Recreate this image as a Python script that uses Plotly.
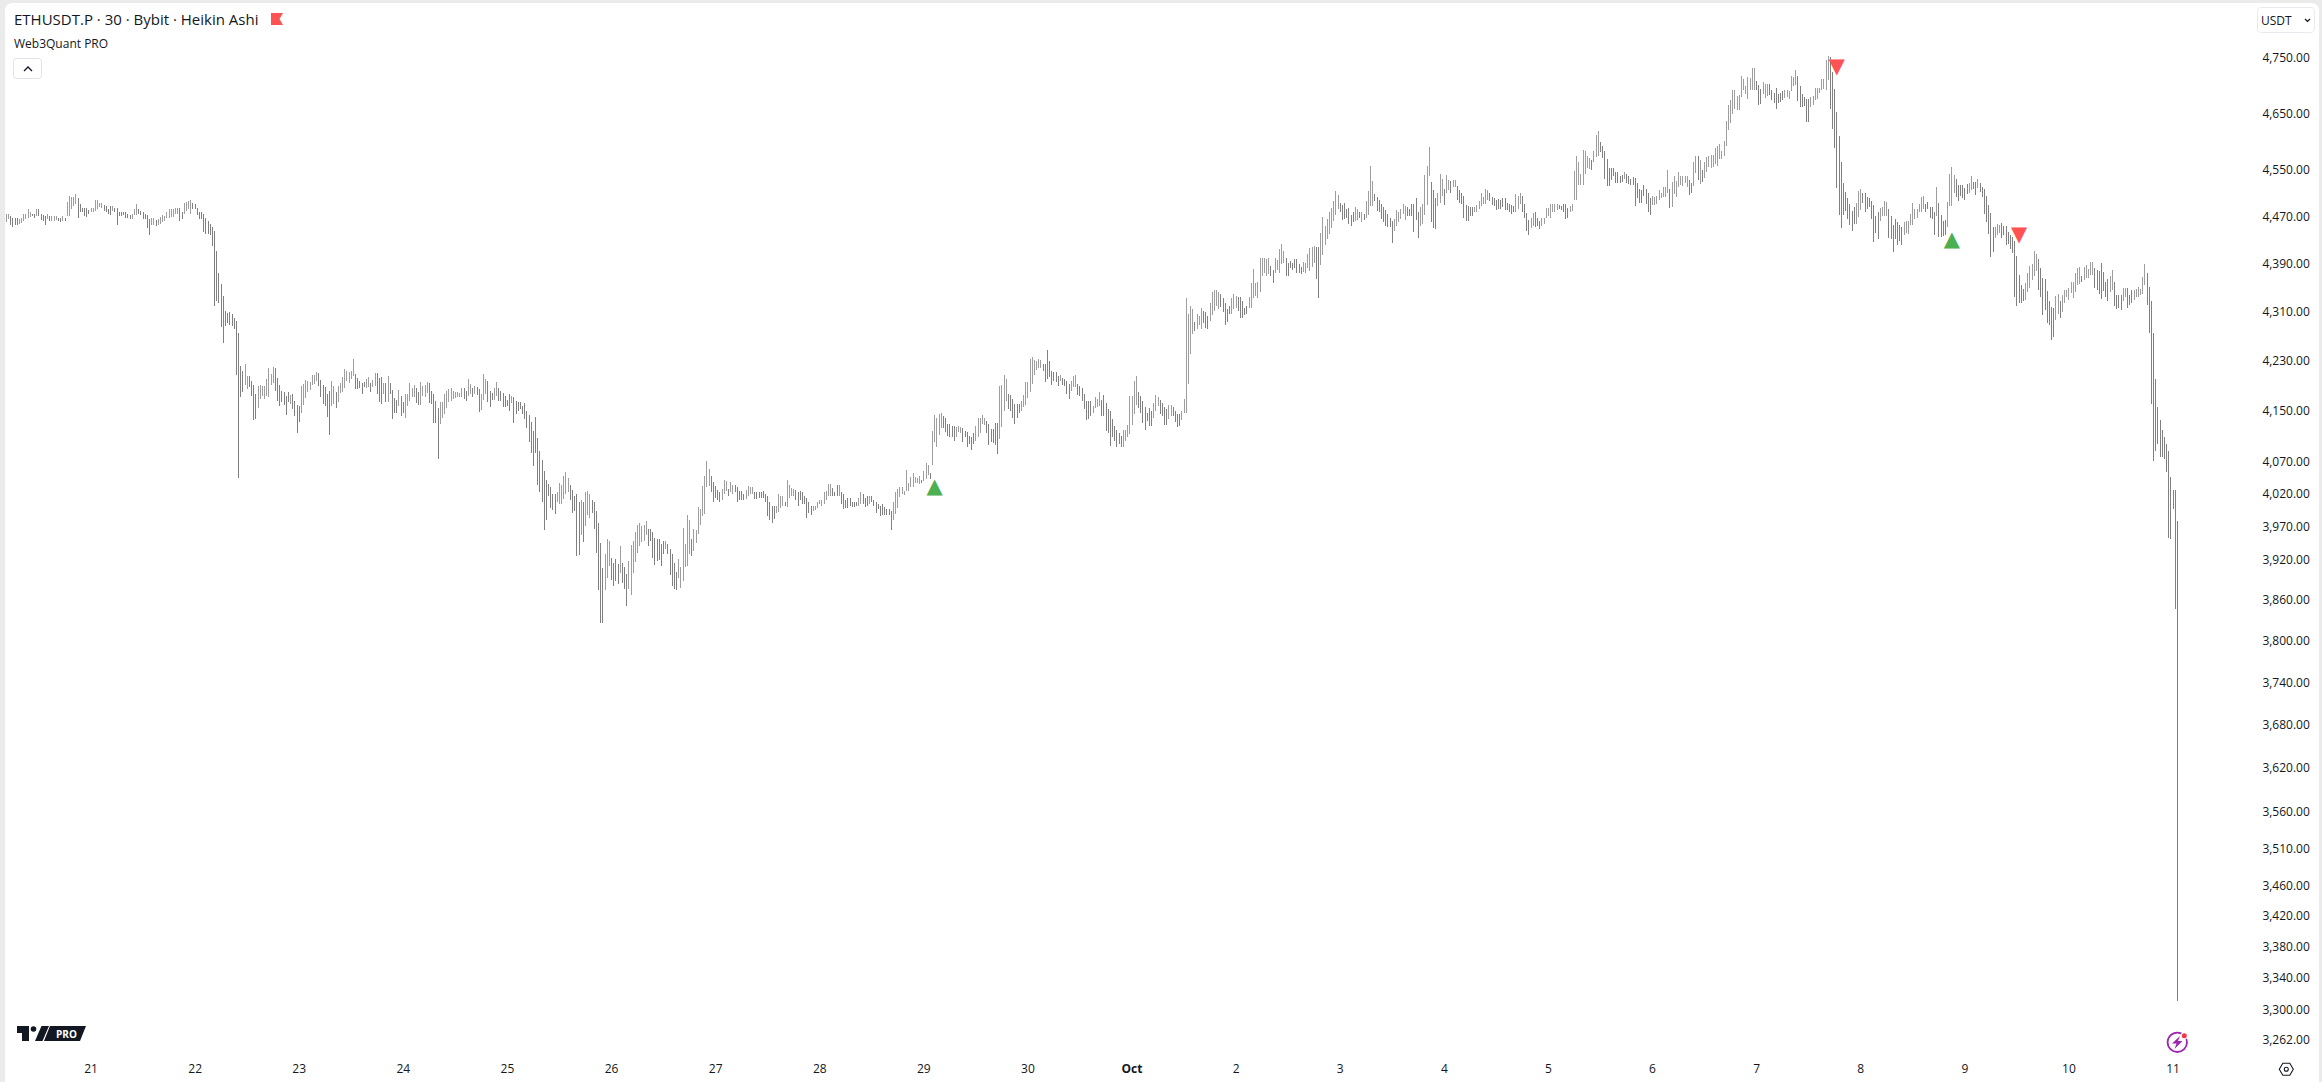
'''
    ETHUSDT.P 30m Heikin Ashi chart, drawn as thin high/low bars on a log price axis.
    The values were read off the picture, one list per day.
'''
import math

import pandas as pd
import plotly.graph_objects as go

W, H = 2322, 1082
INK = '#131722'
UP_COLOR = '#9e9e9e'
DOWN_COLOR = '#808080'
GREEN = '#4caf50'
RED = '#ff5252'
FONT = 'Open Sans'

sep20_high = [4475, 4475, 4470, 4467, 4467, 4467, 4465, 4467, 4475, 4475, 4482, 4478,
              4475, 4475, 4482, 4482, 4474, 4472, 4471, 4475, 4470, 4470, 4470, 4470,
              4467, 4468, 4470, 4468, 4495, 4506, 4503, 4503, 4508, 4501, 4491, 4485,
              4484, 4484, 4481]
sep20_low = [4460, 4465, 4456, 4452, 4455, 4456, 4458, 4459, 4462, 4466, 4468, 4469,
             4470, 4468, 4471, 4471, 4464, 4462, 4455, 4465, 4462, 4462, 4462, 4464,
             4462, 4460, 4462, 4462, 4471, 4471, 4482, 4488, 4491, 4467, 4477, 4477,
             4470, 4469, 4474]
sep20_dir = 'UUDDDDUUUUUU' 'DDUDDDDUDUUU' 'DDUDUUUUUDDD' 'DDD'

sep21_high = [4484, 4485, 4498, 4499, 4493, 4493, 4490, 4488, 4483, 4488, 4488, 4484,
              4485, 4478, 4477, 4478, 4478, 4475, 4473, 4474, 4482, 4491, 4482, 4479,
              4478, 4475, 4472, 4465, 4467, 4467, 4464, 4465, 4469, 4472, 4470, 4478,
              4482, 4482, 4482, 4485, 4485, 4484, 4478, 4493, 4495, 4497, 4498, 4494]
sep21_low = [4477, 4478, 4479, 4483, 4487, 4485, 4479, 4477, 4474, 4472, 4479, 4477,
             4455, 4471, 4471, 4472, 4467, 4467, 4465, 4466, 4472, 4472, 4474, 4473,
             4465, 4465, 4450, 4439, 4456, 4456, 4453, 4456, 4458, 4461, 4462, 4467,
             4468, 4469, 4469, 4474, 4475, 4462, 4465, 4474, 4479, 4482, 4474, 4483]
sep21_dir = 'UUUUUUDDDDUD' 'DDDDDDDUUUDD' 'DDDDUUDUUUUU' 'UUUUUDDUUUUD'

sep22_high = [4492, 4484, 4478, 4477, 4475, 4468, 4462, 4458, 4452, 4445, 4411, 4375,
              4356, 4336, 4312, 4308, 4310, 4307, 4299, 4294, 4275, 4221, 4214, 4224,
              4206, 4205, 4197, 4191, 4176, 4190, 4191, 4189, 4189, 4201, 4218, 4209,
              4220, 4218, 4202, 4191, 4182, 4179, 4174, 4179, 4175, 4177, 4166, 4159]
sep22_low = [4482, 4472, 4465, 4465, 4443, 4441, 4441, 4439, 4420, 4320, 4328, 4324,
             4285, 4259, 4286, 4291, 4288, 4287, 4281, 4207, 4044, 4171, 4179, 4191,
             4185, 4188, 4174, 4135, 4137, 4154, 4169, 4174, 4169, 4173, 4171, 4191,
             4194, 4182, 4165, 4157, 4163, 4159, 4143, 4164, 4160, 4153, 4142, 4115]
sep22_dir = 'DDDDDDDDDDDD' 'DDDDDDDDDDDU' 'UDDDDUUUUUUU' 'UDDDDDDDUDDD'

sep23_high = [4158, 4189, 4192, 4199, 4197, 4196, 4207, 4207, 4212, 4210, 4199, 4191,
              4188, 4176, 4181, 4197, 4190, 4179, 4190, 4194, 4203, 4216, 4213, 4212,
              4213, 4232, 4209, 4202, 4197, 4194, 4196, 4200, 4203, 4194, 4199, 4210,
              4210, 4202, 4203, 4194, 4194, 4206, 4194, 4183, 4170, 4167, 4183, 4173]
sep23_low = [4132, 4146, 4159, 4170, 4180, 4183, 4191, 4192, 4197, 4190, 4172, 4161,
             4158, 4140, 4112, 4158, 4161, 4154, 4164, 4178, 4179, 4186, 4197, 4194,
             4200, 4205, 4184, 4185, 4186, 4177, 4187, 4186, 4187, 4179, 4187, 4189,
             4177, 4163, 4161, 4177, 4163, 4164, 4176, 4136, 4146, 4146, 4158, 4141]
sep23_dir = 'DUUUUUUUUDDD' 'DDDUUDUUUUUU' 'UUDDDDDUUDUU' 'DDDUDUDDDDUD'

sep24_high = [4164, 4177, 4177, 4194, 4186, 4191, 4186, 4179, 4195, 4189, 4191, 4195,
              4194, 4182, 4176, 4165, 4154, 4164, 4164, 4176, 4182, 4184, 4186, 4181,
              4179, 4179, 4178, 4186, 4186, 4181, 4200, 4192, 4186, 4189, 4187, 4184,
              4176, 4208, 4200, 4197, 4182, 4178, 4186, 4195, 4186, 4181, 4178, 4173]
sep24_low = [4147, 4138, 4158, 4165, 4171, 4171, 4162, 4159, 4159, 4173, 4171, 4178,
             4162, 4161, 4131, 4130, 4074, 4129, 4139, 4145, 4154, 4164, 4165, 4168,
             4170, 4171, 4171, 4171, 4168, 4165, 4173, 4176, 4171, 4176, 4175, 4148,
             4151, 4167, 4176, 4164, 4156, 4167, 4167, 4173, 4165, 4165, 4156, 4156]
sep24_dir = 'DUUUUUDDUUUU' 'DDDDDUUUUUUU' 'UUUUDDUUDUDD' 'UUUDDDUUDDDD'

sep25_high = [4167, 4176, 4173, 4172, 4165, 4164, 4164, 4157, 4162, 4149, 4143, 4132,
              4118, 4140, 4106, 4087, 4073, 4055, 4041, 4035, 4031, 4020, 4020, 4023,
              4037, 4034, 4047, 4053, 4044, 4034, 4026, 4017, 4019, 4007, 4010, 4008,
              4023, 4025, 4019, 4010, 4008, 3993, 3975, 3945, 3907, 3928, 3951, 3948]
sep25_low = [4157, 4149, 4162, 4130, 4145, 4149, 4153, 4145, 4137, 4123, 4100, 4083,
             4063, 4083, 4034, 4022, 4007, 3965, 3980, 4017, 3998, 3995, 3989, 4008,
             4005, 4005, 4012, 4020, 4022, 4011, 3990, 3993, 3925, 3927, 3957, 3946,
             3970, 3987, 3983, 3990, 3966, 3930, 3875, 3826, 3826, 3874, 3892, 3910]
sep25_dir = 'DDUDDDDDDDDD' 'DDDDDDDDDDDU' 'UUUUUDDDDDUD' 'UUUDDDDDDUUU'

sep26_high = [3922, 3915, 3921, 3913, 3940, 3915, 3909, 3898, 3918, 3942, 3948, 3961,
              3972, 3975, 3970, 3973, 3979, 3966, 3966, 3961, 3952, 3951, 3951, 3943,
              3948, 3948, 3943, 3936, 3928, 3915, 3901, 3921, 3909, 3967, 3943, 3988,
              3980, 3951, 3966, 3965, 3999, 3996, 4032, 4047, 4070, 4059, 4047, 4038]
sep26_low = [3889, 3880, 3888, 3884, 3900, 3885, 3876, 3851, 3876, 3868, 3900, 3916,
             3930, 3940, 3946, 3948, 3957, 3940, 3948, 3922, 3912, 3918, 3919, 3910,
             3928, 3936, 3928, 3897, 3880, 3876, 3875, 3893, 3877, 3888, 3909, 3910,
             3928, 3925, 3933, 3945, 3958, 3972, 3986, 3989, 4031, 4032, 4023, 4008]
sep26_dir = 'DDDDUDDDUUUU' 'UUUUUDDDDDDD' 'DUDDDDDUUUUU' 'UDUUUUUUUUDD'

sep27_high = [4032, 4026, 4022, 4028, 4041, 4040, 4028, 4038, 4034, 4034, 4031, 4025,
              4025, 4020, 4026, 4032, 4031, 4031, 4023, 4023, 4022, 4022, 4025, 4019,
              4016, 4008, 4001, 4001, 4001, 4020, 4016, 4016, 4007, 4041, 4034, 4029,
              4028, 4026, 4023, 4025, 4022, 4017, 4014, 4007, 4001, 4001, 4002, 4008]
sep27_low = [4013, 4011, 4007, 4011, 4019, 4025, 4016, 4023, 4019, 4022, 4007, 4011,
             4011, 4011, 4012, 4017, 4019, 4020, 4012, 4012, 4014, 4014, 4014, 4008,
             3986, 3980, 3975, 3981, 3990, 3992, 3998, 4001, 4001, 3999, 4014, 4017,
             4017, 4011, 4001, 4010, 4005, 4005, 3983, 3990, 3987, 3993, 3995, 3998]
sep27_dir = 'DDDUUUDUUDDD' 'DDUUUUDDDDDD' 'DDDDUUUUDUUU' 'UDDDDDDDDUUU'

sep28_high = [4010, 4011, 4023, 4025, 4035, 4035, 4029, 4023, 4034, 4034, 4023, 4019,
              4011, 4013, 4013, 4007, 4008, 4008, 4014, 4022, 4019, 4014, 4016, 4017,
              4017, 4011, 4008, 4005, 4002, 4004, 3999, 3996, 3996, 3993, 4007, 4023,
              4028, 4030, 4030, 4024, 4057, 4036, 4046, 4052, 4046, 4044, 4047, 4042]
sep28_low = [4004, 4002, 4005, 4010, 4016, 4017, 4017, 4016, 4017, 4016, 4005, 3996,
             3998, 3998, 4001, 3999, 3999, 4001, 4002, 4005, 4004, 3999, 4002, 4005,
             4007, 4002, 3990, 3996, 3986, 3987, 3987, 3987, 3987, 3965, 3980, 3989,
             3998, 4015, 4020, 4018, 4025, 4025, 4031, 4030, 4036, 4036, 4035, 4037]
sep28_dir = 'UUUUUUDDDUDD' 'DDDDDDUUDDDU' 'DDDDDDDDDDUU' 'UUUUUUUUUUUD'

sep29_high = [4055, 4067, 4065, 4052, 4117, 4143, 4139, 4145, 4147, 4141, 4138, 4129,
              4129, 4125, 4125, 4124, 4125, 4124, 4122, 4117, 4116, 4110, 4108, 4114,
              4125, 4138, 4138, 4143, 4138, 4134, 4129, 4121, 4121, 4130, 4130, 4190,
              4191, 4207, 4201, 4177, 4175, 4168, 4160, 4160, 4160, 4165, 4175, 4195]
sep29_low = [4039, 4043, 4049, 4043, 4065, 4100, 4092, 4112, 4122, 4122, 4116, 4110,
             4108, 4108, 4102, 4108, 4116, 4115, 4101, 4108, 4093, 4097, 4088, 4097,
             4102, 4108, 4115, 4129, 4128, 4114, 4095, 4100, 4099, 4095, 4081, 4105,
             4124, 4150, 4166, 4153, 4150, 4139, 4129, 4139, 4147, 4149, 4155, 4159]
sep29_dir = 'UUUDUUUUUDDD' 'DDDUUUDDDDDD' 'UUUUUDDDDDDU' 'UUUDDDDDDUUU'

sep30_high = [4195, 4233, 4236, 4231, 4230, 4232, 4231, 4224, 4224, 4247, 4229, 4213,
              4211, 4211, 4206, 4207, 4202, 4200, 4197, 4192, 4198, 4205, 4207, 4193,
              4190, 4186, 4177, 4165, 4165, 4166, 4158, 4171, 4169, 4179, 4167, 4175,
              4162, 4152, 4150, 4137, 4126, 4120, 4114, 4110, 4119, 4120, 4128, 4173]
sep30_low = [4170, 4179, 4193, 4207, 4215, 4218, 4219, 4213, 4195, 4200, 4203, 4191,
             4198, 4195, 4189, 4198, 4191, 4190, 4177, 4169, 4181, 4187, 4188, 4175,
             4174, 4166, 4152, 4135, 4136, 4141, 4147, 4154, 4155, 4158, 4141, 4141,
             4117, 4115, 4094, 4108, 4102, 4092, 4097, 4093, 4093, 4102, 4108, 4113]
sep30_dir = 'UUUUUUUDDDDD' 'DDDUDDDDUUUD' 'DDDDDDUUUUDD' 'DDDDDDDDUUUU'

oct01_high = [4173, 4198, 4205, 4179, 4173, 4165, 4155, 4147, 4154, 4149, 4162, 4175,
              4172, 4167, 4162, 4155, 4153, 4159, 4159, 4155, 4149, 4145, 4145, 4150,
              4169, 4332, 4306, 4320, 4315, 4293, 4307, 4303, 4317, 4311, 4310, 4303,
              4325, 4342, 4346, 4346, 4342, 4340, 4333, 4325, 4314, 4320, 4333, 4340]
oct01_low = [4128, 4144, 4159, 4154, 4147, 4130, 4119, 4133, 4126, 4126, 4139, 4150,
             4158, 4144, 4141, 4128, 4127, 4137, 4142, 4142, 4132, 4124, 4125, 4135,
             4147, 4147, 4193, 4241, 4273, 4278, 4282, 4288, 4282, 4291, 4283, 4281,
             4294, 4305, 4311, 4320, 4314, 4318, 4310, 4289, 4293, 4307, 4306, 4314]
oct01_dir = 'UUUDDDDDDDUU' 'UDDDDUUDDDDU' 'UUUUUDUUUDDD' 'UUUUUDDDDDUU'

oct02_high = [4336, 4335, 4335, 4327, 4317, 4319, 4335, 4357, 4381, 4358, 4360, 4399,
              4399, 4399, 4398, 4399, 4386, 4380, 4399, 4397, 4414, 4424, 4411, 4399,
              4391, 4395, 4391, 4398, 4398, 4390, 4385, 4393, 4392, 4407, 4417, 4418,
              4419, 4418, 4418, 4442, 4469, 4454, 4465, 4477, 4484, 4496, 4514, 4507]
oct02_low = [4317, 4311, 4300, 4300, 4305, 4307, 4317, 4317, 4333, 4336, 4332, 4343,
             4369, 4375, 4369, 4372, 4369, 4358, 4375, 4380, 4375, 4390, 4391, 4369,
             4369, 4382, 4380, 4383, 4375, 4375, 4372, 4376, 4375, 4382, 4378, 4385,
             4392, 4364, 4332, 4388, 4404, 4422, 4432, 4440, 4450, 4463, 4472, 4482]
oct02_dir = 'UDDDDDUUUUUU' 'UUUUDDUUUUUD' 'DDDDDDDUUUUU' 'UDDUUUUUUUUU'

oct03_high = [4493, 4489, 4493, 4483, 4484, 4472, 4477, 4487, 4482, 4477, 4477, 4475,
              4496, 4513, 4557, 4531, 4508, 4503, 4499, 4492, 4487, 4481, 4475, 4468,
              4463, 4465, 4481, 4478, 4483, 4492, 4488, 4486, 4483, 4491, 4492, 4502,
              4478, 4487, 4492, 4541, 4558, 4591, 4529, 4515, 4502, 4510, 4543, 4534]
oct03_low = [4477, 4464, 4465, 4468, 4457, 4454, 4460, 4463, 4464, 4468, 4460, 4464,
             4468, 4473, 4488, 4488, 4496, 4479, 4477, 4465, 4461, 4454, 4452, 4452,
             4425, 4446, 4454, 4460, 4465, 4474, 4464, 4470, 4471, 4471, 4444, 4464,
             4433, 4454, 4457, 4473, 4489, 4540, 4461, 4450, 4449, 4488, 4494, 4506]
oct03_dir = 'DDDDDDDUUDUD' 'UUUUDDDDDDDD' 'DUUUUUUDDDDD' 'DUUUUUDDDUUU'

oct04_high = [4517, 4541, 4533, 4531, 4532, 4532, 4522, 4516, 4510, 4505, 4489, 4488,
              4487, 4486, 4487, 4489, 4496, 4510, 4504, 4517, 4516, 4511, 4503, 4501,
              4498, 4500, 4499, 4502, 4502, 4493, 4492, 4489, 4488, 4508, 4505, 4510,
              4505, 4491, 4476, 4464, 4468, 4476, 4477, 4468, 4463, 4467, 4468, 4484]
oct04_low = [4489, 4510, 4516, 4510, 4521, 4521, 4499, 4493, 4492, 4468, 4463, 4463,
             4471, 4470, 4477, 4477, 4482, 4488, 4492, 4492, 4499, 4496, 4490, 4488,
             4481, 4483, 4482, 4487, 4481, 4481, 4477, 4474, 4478, 4477, 4483, 4492,
             4478, 4467, 4446, 4438, 4450, 4453, 4452, 4454, 4449, 4453, 4457, 4468]
oct04_dir = 'DUUDUUDDDDDD' 'DDUUUUUUUDDD' 'DDDDDDDDDUUU' 'DDDDUUDDDUUU'

oct05_high = [4484, 4492, 4492, 4491, 4492, 4489, 4488, 4492, 4491, 4484, 4488, 4491,
              4548, 4574, 4564, 4544, 4586, 4583, 4574, 4571, 4567, 4583, 4612, 4618,
              4599, 4592, 4584, 4570, 4554, 4553, 4553, 4547, 4546, 4540, 4541, 4546,
              4543, 4540, 4535, 4538, 4537, 4527, 4518, 4515, 4524, 4517, 4510, 4501]
oct05_low = [4471, 4468, 4477, 4478, 4481, 4482, 4481, 4477, 4466, 4468, 4477, 4479,
             4499, 4499, 4525, 4524, 4525, 4543, 4554, 4552, 4551, 4564, 4573, 4574,
             4581, 4572, 4534, 4523, 4522, 4533, 4540, 4528, 4527, 4528, 4529, 4534,
             4527, 4526, 4524, 4525, 4488, 4501, 4493, 4494, 4506, 4491, 4478, 4473]
oct05_dir = 'UUUUUDDDDDUU' 'UUUUUUUUDUUU' 'DDDDDDDDDDDU' 'DDDDDDDDDDDD'

oct06_high = [4505, 4504, 4506, 4516, 4511, 4521, 4520, 4550, 4518, 4530, 4539, 4531,
              4546, 4540, 4539, 4540, 4539, 4533, 4527, 4564, 4575, 4575, 4567, 4550,
              4565, 4573, 4575, 4577, 4577, 4588, 4592, 4595, 4584, 4601, 4637, 4665,
              4674, 4692, 4692, 4681, 4683, 4717, 4711, 4699, 4715, 4713, 4732, 4732]
oct06_low = [4490, 4489, 4492, 4499, 4501, 4504, 4504, 4510, 4484, 4487, 4508, 4503,
             4520, 4525, 4523, 4527, 4520, 4507, 4510, 4522, 4545, 4532, 4526, 4530,
             4537, 4546, 4556, 4554, 4556, 4561, 4557, 4569, 4569, 4574, 4593, 4620,
             4633, 4649, 4657, 4656, 4656, 4680, 4692, 4685, 4675, 4691, 4691, 4692]
oct06_dir = 'UUUUUUUUDUUU' 'UUUUUDDUUDUD' 'UUUUUUUUUUUU' 'UUUUUUUUUUUU'

oct07_high = [4708, 4701, 4693, 4706, 4703, 4703, 4703, 4691, 4686, 4696, 4685, 4686,
              4689, 4692, 4691, 4689, 4717, 4715, 4728, 4717, 4699, 4685, 4679, 4676,
              4676, 4680, 4681, 4696, 4695, 4696, 4711, 4711, 4746, 4753, 4752, 4725,
              4694, 4653, 4609, 4565, 4528, 4512, 4502, 4492, 4480, 4486, 4493, 4513]
oct07_low = [4692, 4665, 4667, 4685, 4678, 4681, 4683, 4673, 4668, 4658, 4668, 4671,
             4674, 4677, 4679, 4675, 4689, 4698, 4701, 4672, 4662, 4662, 4663, 4635,
             4635, 4661, 4665, 4674, 4675, 4687, 4692, 4693, 4692, 4709, 4658, 4623,
             4588, 4519, 4473, 4450, 4473, 4479, 4465, 4455, 4446, 4457, 4457, 4469]
oct07_dir = 'DDDUUUDDDDDD' 'DUUUUUUDDDDD' 'DUUUUUUUUUDD' 'DDDDDDDDDDUU'

oct08_high = [4517, 4510, 4510, 4503, 4501, 4497, 4489, 4471, 4478, 4485, 4487, 4496,
              4495, 4482, 4470, 4455, 4465, 4460, 4455, 4452, 4460, 4462, 4462, 4474,
              4493, 4482, 4482, 4492, 4503, 4505, 4491, 4495, 4487, 4487, 4478, 4521,
              4493, 4472, 4463, 4464, 4495, 4543, 4556, 4542, 4534, 4525, 4525, 4525]
oct08_low = [4481, 4493, 4478, 4482, 4487, 4465, 4426, 4442, 4432, 4463, 4471, 4471,
             4471, 4434, 4432, 4410, 4432, 4422, 4429, 4422, 4438, 4442, 4440, 4455,
             4455, 4465, 4468, 4477, 4478, 4483, 4477, 4482, 4468, 4466, 4438, 4471,
             4435, 4435, 4436, 4438, 4452, 4488, 4488, 4510, 4503, 4496, 4506, 4501]
oct08_dir = 'UDDDDDDDDUUU' 'UDDDDDDDUUUU' 'UUUUUUDDDDDU' 'DDDDUUUUDDDD'

oct09_high = [4519, 4526, 4528, 4539, 4529, 4530, 4535, 4528, 4521, 4517, 4506, 4489,
              4476, 4452, 4452, 4457, 4456, 4459, 4454, 4454, 4443, 4438, 4435, 4428,
              4403, 4371, 4355, 4347, 4357, 4375, 4386, 4390, 4412, 4406, 4398, 4382,
              4366, 4364, 4344, 4328, 4318, 4317, 4336, 4340, 4328, 4338, 4346, 4346]
oct09_low = [4498, 4508, 4510, 4515, 4518, 4507, 4519, 4512, 4504, 4474, 4461, 4440,
             4402, 4409, 4434, 4438, 4442, 4433, 4439, 4421, 4424, 4415, 4408, 4334,
             4319, 4324, 4324, 4327, 4329, 4343, 4350, 4363, 4369, 4378, 4346, 4334,
             4305, 4313, 4291, 4289, 4264, 4269, 4297, 4306, 4300, 4309, 4324, 4334]
oct09_dir = 'DDUUDDUDDDDD' 'DDUUUDDDDDDD' 'DDDDUUUUUUDD' 'DDDDDDUUDUUU'

oct10_high = [4349, 4359, 4359, 4374, 4382, 4385, 4369, 4385, 4387, 4381, 4393, 4393,
              4382, 4379, 4377, 4391, 4376, 4360, 4364, 4370, 4379, 4359, 4338, 4338,
              4337, 4349, 4350, 4350, 4337, 4346, 4346, 4347, 4351, 4347, 4368, 4390,
              4375, 4351, 4327, 4275, 4200, 4155, 4135, 4119, 4108, 4098, 4086, 4046]
oct10_low = [4329, 4341, 4332, 4342, 4355, 4356, 4360, 4363, 4366, 4366, 4371, 4371,
             4350, 4346, 4340, 4331, 4344, 4335, 4328, 4342, 4346, 4320, 4315, 4317,
             4313, 4327, 4335, 4317, 4321, 4324, 4329, 4334, 4335, 4337, 4340, 4355,
             4321, 4275, 4161, 4071, 4086, 4097, 4077, 4077, 4074, 4054, 3952, 3951]
oct10_dir = 'UUUUUUDUUUUU' 'DDDDDDDUUDDD' 'DUUDDDUUUUUU' 'DDDDDDDDDDDD'

oct11_high = [4026, 4026, 3978]
oct11_low = [3997, 3846, 3311]
oct11_dir = 'DDD'

days = [
    ('2025-09-20 04:30', sep20_high, sep20_low, sep20_dir),
    ('2025-09-21 00:00', sep21_high, sep21_low, sep21_dir),
    ('2025-09-22 00:00', sep22_high, sep22_low, sep22_dir),
    ('2025-09-23 00:00', sep23_high, sep23_low, sep23_dir),
    ('2025-09-24 00:00', sep24_high, sep24_low, sep24_dir),
    ('2025-09-25 00:00', sep25_high, sep25_low, sep25_dir),
    ('2025-09-26 00:00', sep26_high, sep26_low, sep26_dir),
    ('2025-09-27 00:00', sep27_high, sep27_low, sep27_dir),
    ('2025-09-28 00:00', sep28_high, sep28_low, sep28_dir),
    ('2025-09-29 00:00', sep29_high, sep29_low, sep29_dir),
    ('2025-09-30 00:00', sep30_high, sep30_low, sep30_dir),
    ('2025-10-01 00:00', oct01_high, oct01_low, oct01_dir),
    ('2025-10-02 00:00', oct02_high, oct02_low, oct02_dir),
    ('2025-10-03 00:00', oct03_high, oct03_low, oct03_dir),
    ('2025-10-04 00:00', oct04_high, oct04_low, oct04_dir),
    ('2025-10-05 00:00', oct05_high, oct05_low, oct05_dir),
    ('2025-10-06 00:00', oct06_high, oct06_low, oct06_dir),
    ('2025-10-07 00:00', oct07_high, oct07_low, oct07_dir),
    ('2025-10-08 00:00', oct08_high, oct08_low, oct08_dir),
    ('2025-10-09 00:00', oct09_high, oct09_low, oct09_dir),
    ('2025-10-10 00:00', oct10_high, oct10_low, oct10_dir),
    ('2025-10-11 00:00', oct11_high, oct11_low, oct11_dir),
]

buy_times = ['2025-09-29 02:30', '2025-10-08 21:00']
buy_prices = [4030, 4428]
sell_times = ['2025-10-07 18:30', '2025-10-09 12:30']
sell_prices = [4731, 4437]

price_ticks = [4750, 4650, 4550, 4470, 4390, 4310, 4230, 4150, 4070, 4020, 3970, 3920, 3860,
               3800, 3740, 3680, 3620, 3560, 3510, 3460, 3420, 3380, 3340, 3300, 3262]
date_ticks = ['2025-09-21', '2025-09-22', '2025-09-23', '2025-09-24', '2025-09-25',
              '2025-09-26', '2025-09-27', '2025-09-28', '2025-09-29', '2025-09-30',
              '2025-10-01', '2025-10-02', '2025-10-03', '2025-10-04', '2025-10-05',
              '2025-10-06', '2025-10-07', '2025-10-08', '2025-10-09', '2025-10-10',
              '2025-10-11']
date_labels = ['21', '22', '23', '24', '25', '26', '27', '28', '29', '30', '<b>Oct</b>',
               '2', '3', '4', '5', '6', '7', '8', '9', '10', '11']


def px(x, y):
    '''
        Screen pixel to paper coordinates, for the interface bits around the chart.
    '''
    return x / W, 1 - y / H


def path(*items):
    '''
        Builds an SVG path in paper units from letters and (x, y) pixel pairs.
    '''
    parts = []
    for item in items:
        if isinstance(item, str):
            parts.append(item)
        else:
            x, y = px(*item)
            parts.append(f'{x:.5f},{y:.5f}')
    return ' '.join(parts)


def circle(cx, cy, r):
    x0, y0 = px(cx - r, cy - r)
    x1, y1 = px(cx + r, cy + r)
    return dict(x0=x0, x1=x1, y0=y0, y1=y1)


def rounded(x0, y0, x1, y1, r):
    return path('M', (x0 + r, y0), 'L', (x1 - r, y0), 'Q', (x1, y0), (x1, y0 + r),
                'L', (x1, y1 - r), 'Q', (x1, y1), (x1 - r, y1),
                'L', (x0 + r, y1), 'Q', (x0, y1), (x0, y1 - r),
                'L', (x0, y0 + r), 'Q', (x0, y0), (x0 + r, y0), 'Z')


def label(text, x, y, size, anchor='left', color=INK, bold=False):
    return dict(text=f'<b>{text}</b>' if bold else text, x=px(x, y)[0], y=px(x, y)[1],
                xref='paper', yref='paper', xanchor=anchor, yanchor='middle',
                showarrow=False, font=dict(family=FONT, size=size, color=color))


up_x, up_y, down_x, down_y = [], [], [], []
for start, highs, lows, dirs in days:
    times = pd.date_range(start, periods=len(highs), freq='30min')
    for t, high, low, d in zip(times, highs, lows, dirs):
        xs, ys = (up_x, up_y) if d == 'U' else (down_x, down_y)
        xs += [t, t, None]
        ys += [high, low, None]

fig = go.Figure()
fig.add_trace(go.Scatter(x=up_x, y=up_y, mode='lines', hoverinfo='skip',
                         line=dict(color=UP_COLOR, width=1)))
fig.add_trace(go.Scatter(x=down_x, y=down_y, mode='lines', hoverinfo='skip',
                         line=dict(color=DOWN_COLOR, width=1)))
fig.add_trace(go.Scatter(x=buy_times, y=buy_prices, mode='text', text=['▲'] * len(buy_times),
                         hoverinfo='skip', textposition='middle center',
                         textfont=dict(family='DejaVu Sans', size=21, color=GREEN)))
fig.add_trace(go.Scatter(x=sell_times, y=sell_prices, mode='text', text=['▼'] * len(sell_times),
                         hoverinfo='skip', textposition='middle center',
                         textfont=dict(family='DejaVu Sans', size=21, color=RED)))

shapes = [
    # white panel on the grey page
    dict(type='path', path=path('M', (5, H + 2), 'L', (5, 11), 'Q', (5, 3), (13, 3), 'L', (2311, 3),
                                'Q', (2319, 3), (2319, 11), 'L', (2319, H + 2), 'Z'),
         fillcolor='white', line=dict(width=0), layer='below'),
    # flag next to the title
    dict(type='path', path=path('M', (271, 13), 'L', (283, 13), 'L', (279.5, 19), 'L', (283, 25),
                                'L', (271, 25), 'Z'), fillcolor=RED, line=dict(width=0)),
    # collapse button
    dict(type='path', path=rounded(13.5, 58.5, 41.5, 78.5, 3), line=dict(color='#e0e3eb', width=1)),
    dict(type='path', path=path('M', (24, 71), 'L', (28, 67), 'L', (32, 71)),
         line=dict(color=INK, width=1.3)),
    # currency box
    dict(type='path', path=rounded(2257.5, 7.5, 2314.5, 32.5, 4), line=dict(color='#e8eaf0', width=1)),
    dict(type='path', path=path('M', (2305, 19), 'L', (2307.5, 21.5), 'L', (2310, 19)),
         line=dict(color=INK, width=1.2)),
    # TV PRO logo
    dict(type='path', path=path('M', (17, 1026), 'L', (29, 1026), 'L', (29, 1041), 'L', (22, 1041),
                                'L', (22, 1033), 'L', (17, 1033), 'Z'),
         fillcolor=INK, line=dict(width=0)),
    dict(type='circle', **circle(33.5, 1029, 2.8), xref='paper', yref='paper',
         fillcolor=INK, line=dict(width=0)),
    dict(type='path', path=path('M', (41.5, 1026), 'L', (49, 1026), 'L', (42.5, 1041), 'L', (35, 1041), 'Z'),
         fillcolor=INK, line=dict(width=0)),
    dict(type='path', path=path('M', (50, 1026), 'L', (86, 1026), 'L', (80, 1041), 'L', (44, 1041), 'Z'),
         fillcolor=INK, line=dict(width=0)),
    # lightning button
    dict(type='circle', **circle(2177.3, 1042.3, 9.7), xref='paper', yref='paper',
         line=dict(color='#9c27b0', width=1.8)),
    dict(type='path', path=path('M', (2180, 1036), 'L', (2172, 1043.5), 'L', (2176.5, 1043.5),
                                'L', (2174.5, 1049), 'L', (2182.5, 1041), 'L', (2178, 1041), 'Z'),
         fillcolor='#9c27b0', line=dict(width=0)),
    dict(type='circle', **circle(2184.3, 1035.7, 3.6), xref='paper', yref='paper',
         fillcolor='white', line=dict(width=0)),
    dict(type='circle', **circle(2184.3, 1035.7, 2.5), xref='paper', yref='paper',
         fillcolor='#f23645', line=dict(width=0)),
    # settings hexagon
    dict(type='path', path=path('M', (2279.3, 1069.3), 'L', (2282.8, 1063.3), 'L', (2289.8, 1063.3),
                                'L', (2293.3, 1069.3), 'L', (2289.8, 1075.3), 'L', (2282.8, 1075.3), 'Z'),
         line=dict(color=INK, width=1.1)),
    dict(type='circle', **circle(2286.3, 1069.3, 2), xref='paper', yref='paper',
         line=dict(color=INK, width=1.1)),
]
for shape in shapes:
    shape.setdefault('xref', 'paper')
    shape.setdefault('yref', 'paper')

annotations = [
    label('ETHUSDT.P · 30 · Bybit · Heikin Ashi', 12, 19.5, 15),
    label('Web3Quant PRO', 12, 43.5, 12),
    label('USDT', 2258.5, 20, 12),
    label('PRO', 66, 1034, 10, anchor='center', color='white', bold=True),
]

fig.update_layout(
    width=W, height=H,
    margin=dict(l=0, r=0, t=0, b=0),
    paper_bgcolor='#ebebeb',
    plot_bgcolor='rgba(0,0,0,0)',
    showlegend=False,
    dragmode=False,
    font=dict(family=FONT, size=12, color=INK),
    shapes=shapes,
    annotations=annotations,
    xaxis=dict(
        type='date',
        domain=[5 / W, 2258 / W],
        range=['2025-09-20 04:10', '2025-10-11 19:35'],
        tickmode='array', tickvals=date_ticks, ticktext=date_labels,
        ticks='outside', ticklen=10, tickcolor='rgba(0,0,0,0)',
        tickfont=dict(family=FONT, size=12, color=INK),
        showgrid=False, zeroline=False, showline=False,
    ),
    yaxis=dict(
        type='log',
        side='right',
        domain=[1 - 1048 / H, 1 - 3 / H],
        range=[math.log10(3251.8), math.log10(4850.5)],
        tickmode='array', tickvals=price_ticks,
        ticktext=[f'{v:,.2f}' for v in price_ticks],
        ticks='outside', ticklen=1, tickcolor='rgba(0,0,0,0)',
        tickfont=dict(family=FONT, size=12, color=INK),
        showgrid=False, zeroline=False, showline=False,
    ),
)

# sharp one pixel bars, and no page margin round the chart
post = '''
document.body.style.margin = '0';
document.querySelectorAll('.scatterlayer path.js-line').forEach(function (p) {
    p.style.shapeRendering = 'crispEdges';
});
'''
fig.write_html('out.html', config=dict(displayModeBar=False), post_script=post)
